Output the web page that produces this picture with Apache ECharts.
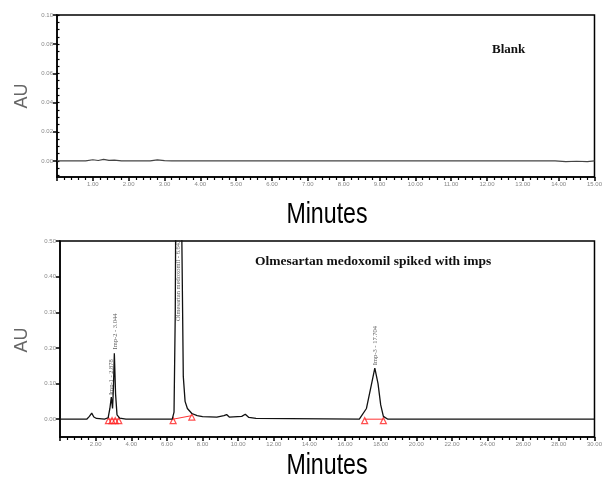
<!DOCTYPE html>
<html><head><meta charset="utf-8">
<script src="https://cdn.jsdelivr.net/npm/echarts@6/dist/echarts.min.js"></script>
<style>html,body{margin:0;padding:0;background:#fff}#c{width:605px;height:480px}</style>
</head><body><div id="c"></div>
<script>
// Blank chromatogram
const blankTime = [0, 0.8, 1.0, 1.15, 1.3, 1.45, 1.6, 1.8, 2.6, 2.8, 3.0, 3.2, 13.9, 14.2, 14.5, 14.8, 15];
const blankAU   = [0, 0, 0.0008, 0.0003, 0.0011, 0.0004, 0.0006, 0, 0, 0.0007, 0.0002, 0, 0, -0.0004, -0.0002, -0.0004, 0];
// Spiked sample chromatogram
const sampleTime = [0, 1.5, 1.65, 1.78, 1.9, 2.05, 2.5, 2.7, 2.8, 2.88, 2.95, 3.0, 3.05, 3.12, 3.2, 3.35, 3.7, 3.8, 3.9, 4.2, 6.3, 6.4, 6.47, 6.55, 6.65, 6.76, 6.84, 6.92, 7.02, 7.15, 7.4, 7.7, 8.0, 8.8, 9.2, 9.35, 9.5, 10.2, 10.4, 10.6, 11.0, 16.8, 17.2, 17.45, 17.67, 17.85, 18.0, 18.15, 18.4, 30];
const sampleAU   = [0, 0, 0.008, 0.017, 0.006, 0.002, 0, 0.004, 0.03, 0.062, 0.03, 0.09, 0.185, 0.07, 0.012, 0.003, 0, 0.004, 0, 0, 0, 0.02, 0.3, 1.2, 2.0, 1.2, 0.5, 0.12, 0.05, 0.03, 0.016, 0.01, 0.007, 0.006, 0.01, 0.013, 0.006, 0.008, 0.014, 0.005, 0.002, 0, 0.03, 0.09, 0.143, 0.1, 0.04, 0.008, 0, 0];
// Integration baseline markers
const markerTime = [2.72, 2.92, 3.1, 3.3, 6.35, 7.4, 17.1, 18.15];
const markerAU   = [-0.004, -0.004, -0.004, -0.004, -0.004, 0.006, -0.004, -0.004];
// Peak annotations
const peakNames = ['Imp-1 - 2.878', 'Imp-2 - 3.044', 'Olmesartan medoxomil - 6.643', 'Imp-3 - 17.704'];
const peakTime  = [2.86, 3.1, 6.62, 17.67];
const peakLabelAU = [0.062, 0.19, 0.27, 0.146];
// Ticks
const topXTicks = {min: 0, max: 15, interval: 1};
const topYRange = {min: -0.011, max: 0.10};
const topYLabels = [0, 0.02, 0.04, 0.06, 0.08, 0.10];
const botXTicks = {min: 0, max: 30, interval: 2};
const botYRange = {min: -0.05, max: 0.50};
const botYLabels = [0, 0.10, 0.20, 0.30, 0.40, 0.50];

const chart = echarts.init(document.getElementById('c'));
const zip = (a, b) => a.map((v, i) => [v, b[i]]);
const labelStyle = {fontSize: 6, color: '#888', fontFamily: 'Liberation Sans', margin: 4};
const lineStyle = {color: '#000', width: 1.5};
const xAx = (gi, t) => ({
  type: 'value', gridIndex: gi, min: t.min, max: t.max, interval: t.interval,
  axisLine: {show: true, onZero: false, lineStyle},
  axisTick: {show: true, length: 4, lineStyle},
  minorTick: {show: true, splitNumber: 5, length: 3, lineStyle: {color: '#000', width: 1.2}},
  splitLine: {show: false},
  axisLabel: Object.assign({}, labelStyle, {showMinLabel: false, formatter: v => v.toFixed(2)})
});
const minorVals = (r, step) => {
  const out = [];
  for (let k = Math.ceil(r.min / step); k * step <= r.max + 1e-9; k++) out.push(+(k * step).toFixed(4));
  return out;
};
const yAx = (gi, r, labels) => ({
  type: 'value', gridIndex: gi, min: r.min, max: r.max,
  axisLine: {show: true, onZero: false, lineStyle},
  axisTick: {show: true, length: 4, lineStyle, customValues: labels},
  splitLine: {show: false},
  axisLabel: Object.assign({}, labelStyle, {customValues: labels, formatter: v => v.toFixed(2)})
});
const yMinor = (gi, r, step) => ({
  type: 'value', gridIndex: gi, min: r.min, max: r.max,
  axisLine: {show: false}, splitLine: {show: false}, axisLabel: {show: false},
  axisTick: {show: true, length: 2.5, lineStyle: {color: '#000', width: 1.2}, customValues: minorVals(r, step)}
});

const nameFont = {fontSize: 29, fill: '#000', fontFamily: 'Liberation Sans'};
chart.setOption({
  animation: false,
  backgroundColor: '#fff',
  grid: [
    {left: 57, top: 15, width: 538, height: 162, show: true, borderColor: '#000', borderWidth: 1.5},
    {left: 60, top: 241, width: 540, height: 196, show: true, borderColor: '#000', borderWidth: 1.5}
  ],
  xAxis: [xAx(0, topXTicks), xAx(1, botXTicks)],
  yAxis: [yAx(0, topYRange, topYLabels), yMinor(0, topYRange, 0.005), yAx(1, botYRange, botYLabels)],
  title: [
    {text: 'Blank', left: 487, top: 38, textStyle: {fontSize: 13, fontWeight: 'bold', fontFamily: 'Liberation Serif', color: '#111'}},
    {text: 'Olmesartan medoxomil spiked with imps', left: 250, top: 250, textStyle: {fontSize: 13.5, fontWeight: 'bold', fontFamily: 'Liberation Serif', color: '#111'}}
  ],
  graphic: [
    {type: 'text', x: 327, y: 215, scaleX: 0.8, style: Object.assign({text: 'Minutes', align: 'center', verticalAlign: 'middle'}, nameFont)},
    {type: 'text', x: 327, y: 466, scaleX: 0.8, style: Object.assign({text: 'Minutes', align: 'center', verticalAlign: 'middle'}, nameFont)},
    {type: 'text', x: 22, y: 96, rotation: Math.PI / 2, style: {text: 'AU', align: 'center', verticalAlign: 'middle', fontSize: 18, fill: '#666', fontFamily: 'Liberation Sans'}},
    {type: 'text', x: 22, y: 340, rotation: Math.PI / 2, style: {text: 'AU', align: 'center', verticalAlign: 'middle', fontSize: 18, fill: '#666', fontFamily: 'Liberation Sans'}}
  ],
  series: [
    {type: 'line', xAxisIndex: 0, yAxisIndex: 0, data: zip(blankTime, blankAU), symbol: 'none', clip: true,
     lineStyle: {color: '#444', width: 1.2}},
    {type: 'line', xAxisIndex: 1, yAxisIndex: 2, data: zip(sampleTime, sampleAU), symbol: 'none', clip: true,
     lineStyle: {color: '#111', width: 1.3}},
    {type: 'line', xAxisIndex: 1, yAxisIndex: 2, symbol: 'none', connectNulls: false,
     data: [[markerTime[0], markerAU[0] + 0.004], [markerTime[3], markerAU[3] + 0.004], [null, null],
            [markerTime[4], markerAU[4] + 0.004], [markerTime[5], markerAU[5] + 0.004], [null, null],
            [markerTime[6], markerAU[6] + 0.004], [markerTime[7], markerAU[7] + 0.004]],
     lineStyle: {color: '#f33', width: 1}},
    {type: 'scatter', xAxisIndex: 1, yAxisIndex: 2, data: zip(markerTime, markerAU), symbol: 'triangle', symbolSize: 6,
     itemStyle: {color: 'rgba(255,255,255,0)', borderColor: '#f22', borderWidth: 1.2}},
    {type: 'scatter', xAxisIndex: 1, yAxisIndex: 2, symbolSize: 0, silent: true,
     data: peakTime.map((t, i) => ({value: [t, peakLabelAU[i]], name: peakNames[i]})),
     label: {show: true, position: 'top', distance: 2, rotate: 90, align: 'left', verticalAlign: 'middle',
             formatter: p => p.name, fontSize: 6.5, color: '#333', fontFamily: 'Liberation Serif'}}
  ]
});
</script></body></html>
